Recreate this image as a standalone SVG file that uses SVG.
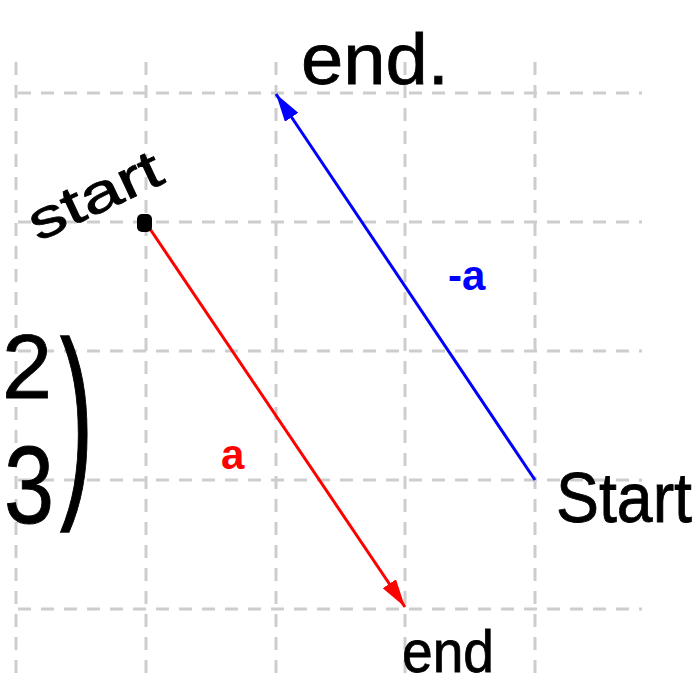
<svg xmlns="http://www.w3.org/2000/svg" width="698" height="678" viewBox="0 0 698 678">
  <style>
    .grid line { stroke: #cdcdcd; stroke-width: 3; stroke-dasharray: 13 10; }
    .hand { font-family: "Liberation Sans", "DejaVu Sans", sans-serif; fill: #000; stroke: #000; stroke-width: 0.8; }
    .lbl { font-family: "Liberation Sans", Arial, sans-serif; font-weight: bold; }
  </style>
  <defs>
    <marker id="arrRed" markerUnits="userSpaceOnUse" markerWidth="30" markerHeight="16" refX="28" refY="8" orient="auto">
      <path d="M0,0 L28,8 L0,16 z" fill="#ff0000"/>
    </marker>
    <marker id="arrBlue" markerUnits="userSpaceOnUse" markerWidth="30" markerHeight="16" refX="28" refY="8" orient="auto">
      <path d="M0,0 L28,8 L0,16 z" fill="#0000ff"/>
    </marker>
  </defs>
  <rect width="698" height="678" fill="#fff"/>
  <g id="grid" class="grid">
    <line x1="16" y1="62" x2="16" y2="678"/>
    <line x1="146" y1="62" x2="146" y2="678"/>
    <line x1="276" y1="62" x2="276" y2="678"/>
    <line x1="405" y1="62" x2="405" y2="678"/>
    <line x1="535" y1="62" x2="535" y2="678"/>
    <line x1="18" y1="93" x2="642" y2="93"/>
    <line x1="18" y1="222" x2="642" y2="222"/>
    <line x1="18" y1="351" x2="642" y2="351"/>
    <line x1="18" y1="480" x2="642" y2="480"/>
    <line x1="18" y1="609" x2="642" y2="609"/>
  </g>
  <g id="connectors">
    <line id="vec-a" x1="146" y1="223" x2="405" y2="607" stroke="#ff0000" stroke-width="3" marker-end="url(#arrRed)"/>
    <line id="vec-neg-a" x1="535" y1="480" x2="276" y2="94" stroke="#0000ff" stroke-width="3" marker-end="url(#arrBlue)"/>
  </g>
  <g id="start-dot">
    <rect x="137" y="214" width="15" height="18" rx="5" fill="#000"/>
  </g>
  <g id="label-a">
    <text class="lbl" x="221" y="469" font-size="42" fill="#ff0000">a</text>
  </g>
  <g id="label-neg-a">
    <text class="lbl" x="448" y="290" font-size="42" fill="#0000ff">-a</text>
  </g>
  <g id="text-end-top">
    <text class="hand" x="301" y="84" font-size="72" textLength="148" lengthAdjust="spacingAndGlyphs">end.</text>
  </g>
  <g id="text-start-left">
    <text class="hand" transform="translate(38,242) rotate(-25)" x="0" y="0" font-size="54" textLength="142" lengthAdjust="spacingAndGlyphs">start</text>
  </g>
  <g id="text-start-right">
    <text class="hand" x="556" y="522" font-size="70" textLength="136" lengthAdjust="spacingAndGlyphs">Start</text>
  </g>
  <g id="text-end-bottom">
    <text class="hand" x="402" y="672" font-size="60" textLength="92" lengthAdjust="spacingAndGlyphs">end</text>
  </g>
  <g id="text-vector">
    <text class="hand" x="2" y="398" font-size="90">2</text>
    <text class="hand" transform="translate(4,523) scale(1,1.22)" x="0" y="0" font-size="90">3</text>
    <text class="hand" transform="translate(60,488) scale(1,2.1)" x="0" y="0" font-size="100" stroke-width="0">)</text>
  </g>
</svg>
